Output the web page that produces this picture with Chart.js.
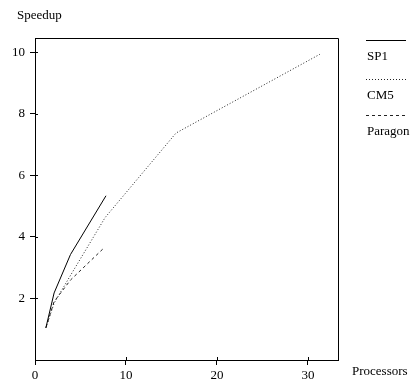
<!DOCTYPE html>
<html>
<head>
<meta charset="utf-8">
<script src="https://cdn.jsdelivr.net/npm/chart.js@4"></script>
<style>
  body { margin: 0; background: #fff; }
</style>
</head>
<body>
<canvas id="chartSpeedup" width="416" height="386"></canvas>
<script>
// Speedup vs processors
const sp1X = [1.2, 2.1, 3.9, 7.8];
const sp1Y = [1.05, 2.18, 3.43, 5.34];

const cm5X = [1.2, 2.1, 3.9, 7.7, 15.5, 31.3];
const cm5Y = [1.05, 1.85, 2.75, 4.63, 7.38, 9.94];

const paragonX = [1.2, 2.1, 3.9, 7.6];
const paragonY = [1.05, 1.9, 2.6, 3.65];

const xTicks = [0, 10, 20, 30];
const yTicks = [2, 4, 6, 8, 10];

const FONT = "'Liberation Serif', 'Times New Roman', serif";

function toPoints(xs, ys) {
  return xs.map((x, i) => ({ x: x, y: ys[i] }));
}

// Frame, axis titles and the legend
const decorPlugin = {
  id: "decor",
  afterDraw(chart) {
    const ctx = chart.ctx;
    const a = chart.chartArea;
    ctx.save();
    ctx.strokeStyle = "#000";
    ctx.lineWidth = 1;
    ctx.setLineDash([]);
    ctx.beginPath();
    ctx.moveTo(a.left, a.top + 0.5);
    ctx.lineTo(a.right + 0.5, a.top + 0.5);
    ctx.lineTo(a.right + 0.5, a.bottom);
    ctx.stroke();

    // small tick stubs inside the frame
    const xs = chart.scales.x, ys = chart.scales.y;
    ctx.beginPath();
    xTicks.slice(1).forEach(v => {
      const px = Math.round(xs.getPixelForValue(v)) + 0.5;
      ctx.moveTo(px, a.bottom);
      ctx.lineTo(px, a.bottom - 3);
    });
    yTicks.forEach(v => {
      const py = Math.round(ys.getPixelForValue(v)) + 0.5;
      ctx.moveTo(a.left, py);
      ctx.lineTo(a.left + 3, py);
    });
    ctx.stroke();

    ctx.fillStyle = "#000";
    ctx.font = "13px " + FONT;
    ctx.textBaseline = "alphabetic";
    ctx.textAlign = "left";
    ctx.fillText("Speedup", 17, 19);
    ctx.fillText("Processors", 352, 375);

    // legend: line above label
    const legendX = 366, lineW = 40;
    const lineYs = [40.5, 79.5, 115.5];
    chart.data.datasets.forEach((ds, i) => {
      ctx.strokeStyle = ds.borderColor;
      ctx.setLineDash(ds.borderDash || []);
      ctx.beginPath();
      ctx.moveTo(legendX, lineYs[i]);
      ctx.lineTo(legendX + lineW, lineYs[i]);
      ctx.stroke();
      ctx.fillText(ds.label, legendX + 1, lineYs[i] + 19);
    });
    ctx.restore();
  }
};

new Chart(document.getElementById("chartSpeedup"), {
  type: "scatter",
  data: {
    datasets: [
      {
        label: "SP1",
        data: toPoints(sp1X, sp1Y),
        showLine: true,
        borderColor: "#000",
        borderWidth: 1,
        pointRadius: 0,
      },
      {
        label: "CM5",
        data: toPoints(cm5X, cm5Y),
        showLine: true,
        borderColor: "#222",
        borderWidth: 1,
        borderDash: [1, 2],
        pointRadius: 0,
      },
      {
        label: "Paragon",
        data: toPoints(paragonX, paragonY),
        showLine: true,
        borderColor: "#222",
        borderWidth: 1,
        borderDash: [3, 3],
        pointRadius: 0,
      },
    ],
  },
  options: {
    responsive: false,
    animation: false,
    layout: { padding: { top: 38, right: 78, left: 0, bottom: 0 } },
    plugins: {
      legend: { display: false },
      tooltip: { enabled: false },
    },
    scales: {
      x: {
        type: "linear",
        min: 0,
        max: 33.3,
        afterBuildTicks: s => { s.ticks = xTicks.map(v => ({ value: v })); },
        afterFit: s => { s.height = 26; },
        grid: { drawOnChartArea: false, tickLength: 5, color: "#000" },
        border: { color: "#000" },
        ticks: { color: "#000", padding: 3, maxRotation: 0, font: { family: FONT, size: 13 } },
      },
      y: {
        type: "linear",
        min: 0,
        max: 10.47,
        afterBuildTicks: s => { s.ticks = yTicks.map(v => ({ value: v })); },
        afterFit: s => { s.width = 35; },
        grid: { drawOnChartArea: false, tickLength: 5, color: "#000" },
        border: { color: "#000" },
        ticks: { color: "#000", padding: 5, font: { family: FONT, size: 13 } },
      },
    },
  },
  plugins: [decorPlugin],
});
</script>
</body>
</html>
